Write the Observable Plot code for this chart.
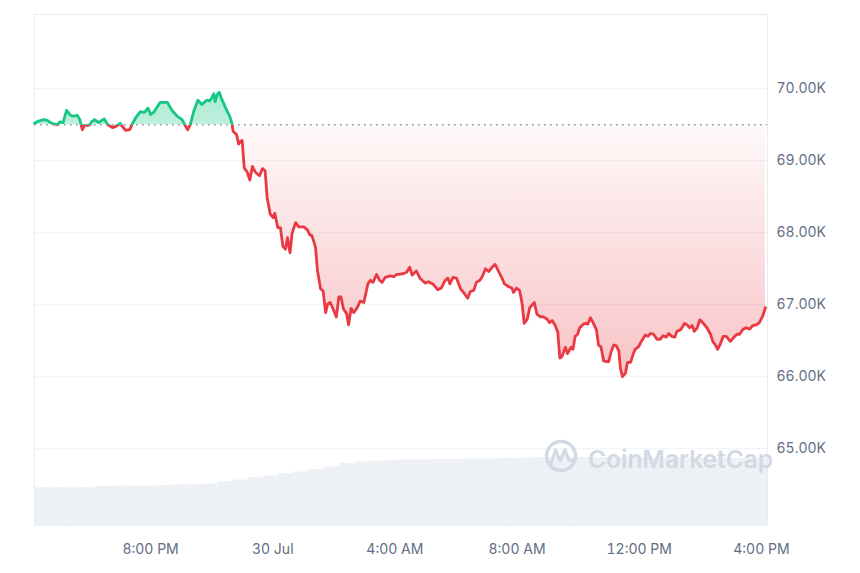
<!DOCTYPE html>
<html>
<head>
<meta charset="utf-8">
<script src="https://cdn.jsdelivr.net/npm/d3@7"></script>
<script src="https://cdn.jsdelivr.net/npm/@observablehq/plot@0.6"></script>
<style>
  body { margin: 0; background: #ffffff; font-family: Inter, "Noto Sans", sans-serif; }
  #wrap { position: relative; width: 860px; height: 573px; }
  #wrap > svg { position: absolute; left: 0; top: 0; }
</style>
</head>
<body>
<div id="wrap"></div>
<script>
// ---------- data ----------
const startUTC = Date.UTC(2024, 6, 29, 16, 12);   // 29 Jul 2024, 4:12 PM
const spanMinutes = 1440;
const baselinePrice = 69.5;                        // opening price (K USD)

const minutes = [
  0, 8, 18, 25, 31, 38, 45, 50, 56, 63,
  71, 77, 84, 89, 94, 98, 104, 109, 112, 118,
  126, 137, 144, 153, 161, 168, 172, 179, 187, 192,
  200, 208, 216, 223, 228, 234, 247, 261, 270, 280,
  290, 295, 301, 306, 313, 321, 329, 338, 344, 349,
  352, 355, 359, 363, 367, 375, 384, 388, 390, 397,
  401, 405, 408, 412, 418, 423, 428, 434, 442, 448,
  453, 457, 463, 469, 472, 478, 483, 488, 493, 497,
  502, 506, 513, 519, 529, 536, 541, 545, 552, 556,
  562, 567, 572, 576, 581, 588, 593, 598, 602, 607,
  613, 617, 622, 627, 634, 640, 647, 655, 660, 665,
  672, 678, 683, 689, 699, 706, 711, 717, 724, 731,
  737, 742, 750, 758, 768, 774, 784, 792, 799, 807,
  812, 816, 822, 829, 837, 844, 851, 856, 863, 868,
  875, 879, 886, 892, 899, 905, 912, 919, 923, 932,
  938, 941, 947, 953, 958, 962, 968, 973, 982, 987,
  994, 1000, 1007, 1012, 1017, 1023, 1028, 1032, 1036, 1043,
  1047, 1054, 1058, 1062, 1067, 1071, 1078, 1084, 1087, 1092,
  1098, 1104, 1108, 1113, 1118, 1125, 1128, 1133, 1138, 1143,
  1148, 1151, 1155, 1161, 1165, 1171, 1176, 1180, 1187, 1193,
  1200, 1205, 1210, 1216, 1223, 1229, 1235, 1241, 1246, 1252,
  1258, 1262, 1269, 1277, 1282, 1287, 1292, 1296, 1302, 1307,
  1313, 1321, 1328, 1333, 1337, 1342, 1347, 1353, 1359, 1367,
  1373, 1380, 1385, 1392, 1398, 1405, 1411, 1418, 1424, 1431,
  1436
];

const prices = [
  69.52, 69.55, 69.57, 69.56, 69.53, 69.51, 69.50, 69.54, 69.53, 69.70,
  69.63, 69.62, 69.63, 69.57, 69.43, 69.49, 69.49, 69.50, 69.54, 69.57,
  69.53, 69.58, 69.50, 69.46, 69.48, 69.52, 69.48, 69.42, 69.43, 69.51,
  69.61, 69.68, 69.67, 69.73, 69.64, 69.67, 69.81, 69.81, 69.70, 69.62,
  69.57, 69.50, 69.43, 69.50, 69.69, 69.84, 69.78, 69.84, 69.83, 69.88,
  69.93, 69.82, 69.92, 69.95, 69.87, 69.74, 69.61, 69.51, 69.41, 69.36,
  69.23, 69.27, 69.28, 68.90, 68.84, 68.73, 68.92, 68.84, 68.79, 68.89,
  68.86, 68.49, 68.26, 68.21, 68.27, 68.07, 68.07, 67.81, 67.77, 67.93,
  67.72, 67.99, 68.14, 68.08, 68.08, 68.04, 67.97, 67.96, 67.80, 67.47,
  67.22, 67.19, 66.89, 67.01, 67.03, 66.92, 66.83, 67.11, 67.11, 66.94,
  66.88, 66.72, 66.95, 66.89, 66.96, 67.05, 67.03, 67.29, 67.34, 67.31,
  67.42, 67.34, 67.31, 67.38, 67.40, 67.39, 67.42, 67.42, 67.43, 67.45,
  67.52, 67.41, 67.47, 67.36, 67.30, 67.32, 67.28, 67.21, 67.23, 67.34,
  67.37, 67.29, 67.38, 67.37, 67.22, 67.16, 67.09, 67.18, 67.20, 67.31,
  67.34, 67.38, 67.50, 67.46, 67.52, 67.56, 67.46, 67.36, 67.29, 67.25,
  67.23, 67.17, 67.23, 67.20, 67.01, 66.74, 66.80, 66.96, 67.03, 66.87,
  66.83, 66.83, 66.80, 66.75, 66.78, 66.71, 66.62, 66.26, 66.28, 66.41,
  66.32, 66.41, 66.38, 66.56, 66.59, 66.68, 66.73, 66.74, 66.73, 66.82,
  66.74, 66.65, 66.44, 66.41, 66.22, 66.21, 66.21, 66.35, 66.44, 66.43,
  66.36, 66.12, 66.00, 66.05, 66.20, 66.20, 66.31, 66.38, 66.42, 66.50,
  66.58, 66.56, 66.60, 66.59, 66.52, 66.52, 66.57, 66.55, 66.60, 66.56,
  66.55, 66.63, 66.65, 66.74, 66.72, 66.68, 66.71, 66.63, 66.68, 66.79,
  66.75, 66.68, 66.59, 66.48, 66.45, 66.38, 66.45, 66.56, 66.56, 66.49,
  66.54, 66.59, 66.59, 66.66, 66.68, 66.66, 66.71, 66.72, 66.75, 66.85,
  66.96
];

// volume, one bar per 30 minutes (relative units)
const volumeBarMinutes = 30;
const volumes = [
  7.56, 7.56, 7.56, 7.56, 7.81, 7.87, 7.87, 7.87, 8.01, 8.14,
  8.14, 8.30, 8.73, 9.08, 9.51, 9.86, 10.29, 10.64, 11.13, 11.62,
  12.30, 12.60, 12.79, 12.89, 12.99, 12.99, 13.09, 13.09, 13.18, 13.18,
  13.28, 13.28, 13.38, 13.48, 13.48, 13.48, 13.48, 13.48, 13.48, 13.48,
  13.38, 13.38, 13.38, 13.38, 13.28, 13.28, 13.28, 13.28
];

const yTicks = [65, 66, 67, 68, 69, 70];
const yDomain = [63.92, 71.03];
const xTickTimes = ["2024-07-29T20:00:00Z", "2024-07-30T00:00:00Z", "2024-07-30T04:00:00Z",
                    "2024-07-30T08:00:00Z", "2024-07-30T12:00:00Z", "2024-07-30T16:00:00Z"];
const xTickLabels = ["8:00 PM", "30 Jul", "4:00 AM", "8:00 AM", "12:00 PM", "4:00 PM"];

if (minutes.length !== prices.length) throw new Error("length mismatch " + minutes.length + " vs " + prices.length);

// ---------- tables ----------
const series = minutes.map((m, i) => ({ time: new Date(startUTC + m * 60000), price: prices[i] }));
const volData = volumes.map((v, i) => ({
  t1: new Date(startUTC + i * volumeBarMinutes * 60000),
  t2: new Date(startUTC + (i + 1) * volumeBarMinutes * 60000),
  v
}));
const xDomain = [new Date(startUTC), new Date(startUTC + spanMinutes * 60000)];
const tickDates = xTickTimes.map(s => new Date(s));
const tickLabelOf = new Map(tickDates.map((d, i) => [+d, xTickLabels[i]]));

const RED = "#ea3943", GREEN = "#16c784";
const common = {
  width: 860, height: 573,
  marginTop: 14, marginBottom: 47, marginLeft: 34, marginRight: 93,
  style: { fontFamily: "Inter, 'Noto Sans', sans-serif", fontSize: "14px", color: "#616e85",
           background: "transparent", overflow: "visible" }
};

// ---------- volume layer ----------
const volPlot = Plot.plot({
  ...common,
  x: { type: "utc", domain: xDomain, axis: null },
  y: { domain: [0, 100], axis: null },
  marks: [
    Plot.rectY(volData, { x1: "t1", x2: "t2", y: "v", fill: "#edf0f5", inset: 0 })
  ]
});

// ---------- price layer ----------
const mainPlot = Plot.plot({
  ...common,
  x: { type: "utc", domain: xDomain, ticks: tickDates, tickFormat: d => tickLabelOf.get(+d) ?? "",
       tickSize: 0, tickPadding: 18, label: null },
  y: { domain: yDomain, axis: "right", ticks: yTicks, tickFormat: d => d.toFixed(2) + "K",
       tickSize: 0, tickPadding: 9, label: null },
  marks: [
    Plot.ruleY(yTicks, { stroke: "#eff2f5", strokeWidth: 1 }),
    Plot.ruleY([yDomain[1]], { stroke: "#e8ebef", strokeWidth: 1 }),
    Plot.ruleX(xDomain, { stroke: "#e8ebef", strokeWidth: 1 }),
    // [0] red area, [1] green area (clipped below / above the opening price)
    Plot.areaY(series, { x: "time", y1: d => baselinePrice, y2: "price", fill: "url(#redGrad)" }),
    Plot.areaY(series, { x: "time", y1: d => baselinePrice, y2: "price", fill: "url(#greenGrad)" }),
    Plot.ruleY([baselinePrice], { stroke: "#8a94a6", strokeWidth: 1.6, strokeDasharray: "1.6,4.4" }),
    // [0] red line, [1] green line
    Plot.line(series, { x: "time", y: "price", stroke: RED, strokeWidth: 2.8 }),
    Plot.line(series, { x: "time", y: "price", stroke: GREEN, strokeWidth: 2.8 })
  ]
});

// ---------- clip & gradients from scales ----------
const ys = mainPlot.scale("y");
const yb = ys.apply(baselinePrice);
const svg = d3.select(mainPlot);
const defs = svg.insert("defs", ":first-child");
defs.append("clipPath").attr("id", "clipAbove")
  .append("rect").attr("x", 0).attr("y", 0).attr("width", 860).attr("height", yb);
defs.append("clipPath").attr("id", "clipBelow")
  .append("rect").attr("x", 0).attr("y", yb).attr("width", 860).attr("height", 573 - yb);
const rg = defs.append("linearGradient").attr("id", "redGrad")
  .attr("gradientUnits", "userSpaceOnUse").attr("x1", 0).attr("x2", 0)
  .attr("y1", yb).attr("y2", ys.apply(d3.min(prices)));
rg.append("stop").attr("offset", 0).attr("stop-color", RED).attr("stop-opacity", 0.03);
rg.append("stop").attr("offset", 1).attr("stop-color", RED).attr("stop-opacity", 0.3);
const gg = defs.append("linearGradient").attr("id", "greenGrad")
  .attr("gradientUnits", "userSpaceOnUse").attr("x1", 0).attr("x2", 0)
  .attr("y1", ys.apply(d3.max(prices))).attr("y2", yb);
gg.append("stop").attr("offset", 0).attr("stop-color", GREEN).attr("stop-opacity", 0.36);
gg.append("stop").attr("offset", 1).attr("stop-color", GREEN).attr("stop-opacity", 0.28);

const areas = svg.selectAll('g[aria-label="area"]').nodes();
const lines = svg.selectAll('g[aria-label="line"]').nodes();
d3.select(areas[0]).attr("clip-path", "url(#clipBelow)");
d3.select(areas[1]).attr("clip-path", "url(#clipAbove)");
d3.select(lines[0]).attr("clip-path", "url(#clipBelow)");
d3.select(lines[1]).attr("clip-path", "url(#clipAbove)");
svg.selectAll('g[aria-label="line"] path').attr("stroke-linejoin", "round").attr("stroke-linecap", "round");

// ---------- watermark ----------
const wm = svg.append("g").attr("aria-label", "watermark");
const wmColor = "#d3d9e3";
wm.append("circle").attr("cx", 561).attr("cy", 456).attr("r", 14.5)
  .attr("fill", "none").attr("stroke", wmColor).attr("stroke-width", 3.4);
wm.append("path")
  .attr("d", "M551,464 L555.5,450 L560,461 L565,450 L568.5,459 Q570,462 573,460")
  .attr("fill", "none").attr("stroke", wmColor).attr("stroke-width", 3.2)
  .attr("stroke-linejoin", "round").attr("stroke-linecap", "round");
wm.append("text").attr("x", 588).attr("y", 467.5).attr("text-anchor", "start")
  .attr("fill", wmColor).attr("font-size", 24.5).attr("font-weight", 600)
  .attr("font-family", "Inter, 'Noto Sans', sans-serif")
  .text("CoinMarketCap");

const wrap = document.getElementById("wrap");
wrap.appendChild(volPlot);
wrap.appendChild(mainPlot);
</script>
</body>
</html>
